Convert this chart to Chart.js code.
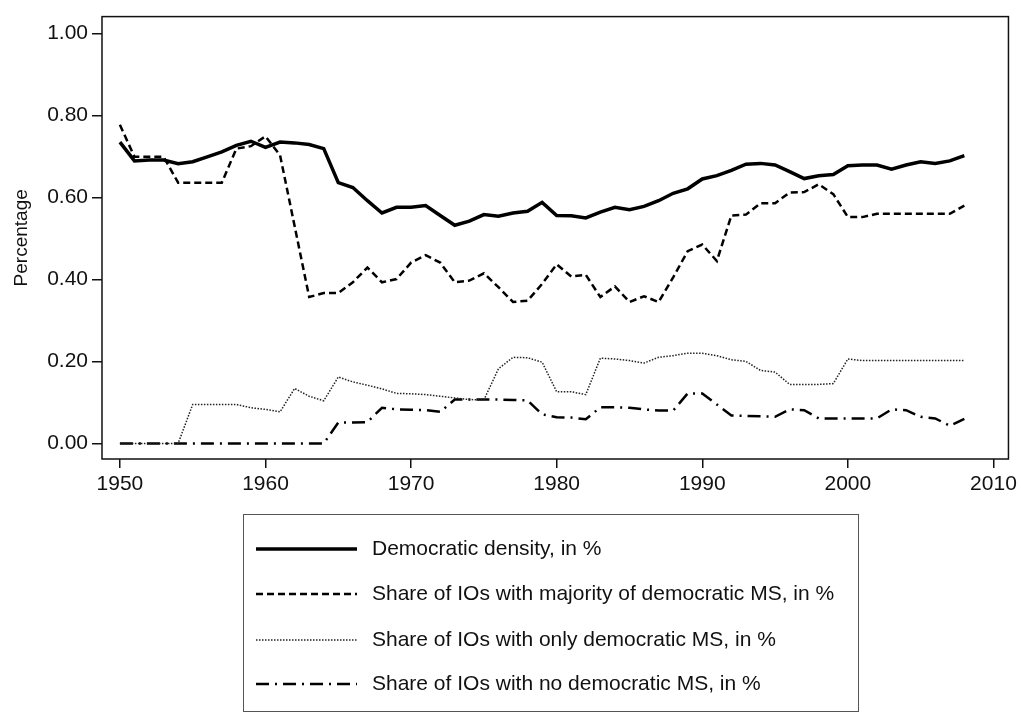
<!DOCTYPE html>
<html>
<head>
<meta charset="utf-8">
<script src="https://cdn.jsdelivr.net/npm/chart.js@4"></script>
<style>
  html, body { margin: 0; padding: 0; background: #fff; }
  #wrap { width: 1021px; height: 713px; }
</style>
</head>
<body>
<div id="wrap"><canvas id="chart" width="1021" height="713"></canvas></div>
<script>
// Values, one per year 1950-2008
const years = [1950, 1951, 1952, 1953, 1954, 1955, 1956, 1957, 1958, 1959,
  1960, 1961, 1962, 1963, 1964, 1965, 1966, 1967, 1968, 1969,
  1970, 1971, 1972, 1973, 1974, 1975, 1976, 1977, 1978, 1979,
  1980, 1981, 1982, 1983, 1984, 1985, 1986, 1987, 1988, 1989,
  1990, 1991, 1992, 1993, 1994, 1995, 1996, 1997, 1998, 1999,
  2000, 2001, 2002, 2003, 2004, 2005, 2006, 2007, 2008];

const density = [0.735, 0.689, 0.691, 0.691, 0.682, 0.687, 0.699, 0.711, 0.727, 0.737,
  0.722, 0.735, 0.733, 0.729, 0.719, 0.636, 0.624, 0.592, 0.562, 0.576,
  0.576, 0.580, 0.556, 0.532, 0.542, 0.558, 0.554, 0.562, 0.566, 0.588,
  0.556, 0.555, 0.550, 0.564, 0.576, 0.570, 0.578, 0.592, 0.610, 0.621,
  0.645, 0.653, 0.666, 0.681, 0.683, 0.679, 0.663, 0.646, 0.653, 0.656,
  0.677, 0.679, 0.679, 0.669, 0.679, 0.687, 0.683, 0.689, 0.702];

const majority = [0.777, 0.699, 0.699, 0.699, 0.636, 0.636, 0.636, 0.636, 0.719, 0.725,
  0.749, 0.703, 0.530, 0.357, 0.367, 0.367, 0.393, 0.429, 0.393, 0.401,
  0.441, 0.459, 0.441, 0.393, 0.397, 0.415, 0.381, 0.345, 0.348, 0.389,
  0.437, 0.407, 0.411, 0.357, 0.383, 0.345, 0.359, 0.345, 0.405, 0.469,
  0.485, 0.445, 0.556, 0.558, 0.586, 0.586, 0.612, 0.613, 0.632, 0.608,
  0.552, 0.552, 0.560, 0.560, 0.560, 0.560, 0.560, 0.560, 0.580];

const onlyDem = [0, 0, 0, 0, 0, 0.095, 0.095, 0.095, 0.095, 0.087,
  0.083, 0.077, 0.134, 0.115, 0.104, 0.162, 0.150, 0.142, 0.133, 0.122,
  0.121, 0.119, 0.115, 0.111, 0.107, 0.106, 0.182, 0.210, 0.209, 0.198,
  0.126, 0.126, 0.119, 0.208, 0.206, 0.202, 0.196, 0.210, 0.214, 0.220,
  0.220, 0.214, 0.204, 0.200, 0.178, 0.174, 0.144, 0.144, 0.144, 0.146,
  0.206, 0.202, 0.202, 0.202, 0.202, 0.202, 0.202, 0.202, 0.202];

const noDem = [0, 0, 0, 0, 0, 0, 0, 0, 0, 0,
  0, 0, 0, 0, 0, 0.051, 0.051, 0.052, 0.087, 0.083,
  0.082, 0.081, 0.077, 0.107, 0.107, 0.107, 0.107, 0.106, 0.105, 0.071,
  0.064, 0.063, 0.059, 0.088, 0.088, 0.087, 0.083, 0.080, 0.080, 0.122,
  0.122, 0.095, 0.068, 0.067, 0.066, 0.065, 0.083, 0.081, 0.061, 0.061,
  0.061, 0.061, 0.061, 0.083, 0.081, 0.065, 0.061, 0.043, 0.060];

const xTicks = [1950, 1960, 1970, 1980, 1990, 2000, 2010];
const yTicks = [0, 0.2, 0.4, 0.6, 0.8, 1.0];

const seriesLabels = [
  'Democratic density, in %',
  'Share of IOs with majority of democratic MS, in %',
  'Share of IOs with only democratic MS, in %',
  'Share of IOs with no democratic MS, in %'
];

const FONT = '"Liberation Sans", Arial, Helvetica, sans-serif';

function toPoints(vals) {
  return years.map((yr, i) => ({ x: yr, y: vals[i] }));
}

// frame around the plot region
const framePlugin = {
  id: 'frame',
  afterDatasetsDraw(chart) {
    const a = chart.chartArea;
    const ctx = chart.ctx;
    ctx.save();
    ctx.strokeStyle = '#111';
    ctx.lineWidth = 1.5;
    ctx.strokeRect(a.left, a.top, a.right - a.left, a.bottom - a.top);
    ctx.restore();
  }
};

// boxed legend under the plot, like the Stata one
const legendBox = {
  id: 'legendBox',
  afterDraw(chart) {
    const ctx = chart.ctx;
    const box = { x: 243, y: 514, w: 615, h: 197 };
    const rows = [549, 594, 640, 684];
    ctx.save();
    ctx.strokeStyle = '#555';
    ctx.lineWidth = 1;
    ctx.strokeRect(box.x + 0.5, box.y + 0.5, box.w, box.h);
    chart.data.datasets.forEach((ds, i) => {
      ctx.beginPath();
      ctx.strokeStyle = ds.borderColor;
      ctx.lineWidth = ds.borderWidth;
      ctx.setLineDash(ds.borderDash || []);
      ctx.moveTo(256, rows[i]);
      ctx.lineTo(357, rows[i]);
      ctx.stroke();
      ctx.setLineDash([]);
      ctx.fillStyle = '#111';
      ctx.font = '21px ' + FONT;
      ctx.textBaseline = 'middle';
      ctx.fillText(ds.label, 372, rows[i]);
    });
    ctx.restore();
  }
};

new Chart(document.getElementById('chart'), {
  type: 'line',
  data: {
    datasets: [
      { label: seriesLabels[0], data: toPoints(density), borderColor: '#000', borderWidth: 3.5 },
      { label: seriesLabels[1], data: toPoints(majority), borderColor: '#000', borderWidth: 2.5, borderDash: [7, 4] },
      { label: seriesLabels[2], data: toPoints(onlyDem), borderColor: '#222', borderWidth: 1.5, borderDash: [1.5, 1.5] },
      { label: seriesLabels[3], data: toPoints(noDem), borderColor: '#000', borderWidth: 2.5, borderDash: [13, 6, 2, 6] }
    ]
  },
  options: {
    responsive: false,
    animation: false,
    elements: { point: { radius: 0 }, line: { tension: 0, fill: false } },
    layout: { padding: { top: 7, right: 11, left: 0, bottom: 0 } },
    plugins: { legend: { display: false }, tooltip: { enabled: false } },
    scales: {
      x: {
        type: 'linear',
        min: 1948.77,
        max: 2011.03,
        afterBuildTicks: s => { s.ticks = xTicks.map(v => ({ value: v })); },
        afterFit: s => { s.height = 254; },
        border: { display: false },
        grid: { drawOnChartArea: false, drawTicks: true, tickLength: 9, color: '#111', lineWidth: 1.5 },
        ticks: { color: '#111', font: { family: FONT, size: 21 }, padding: 4, maxRotation: 0,
          callback: v => String(v) }
      },
      y: {
        min: -0.038,
        max: 1.041,
        afterBuildTicks: s => { s.ticks = yTicks.map(v => ({ value: v })); },
        afterFit: s => { s.width = 102; },
        border: { display: false },
        grid: { drawOnChartArea: false, drawTicks: true, tickLength: 10, color: '#111', lineWidth: 1.5 },
        ticks: { color: '#111', font: { family: FONT, size: 21 }, padding: 4,
          callback: v => v.toFixed(2) },
        title: { display: true, text: 'Percentage', color: '#111', font: { family: FONT, size: 19 },
          padding: { top: 10, bottom: 0 } }
      }
    }
  },
  plugins: [framePlugin, legendBox]
});
</script>
</body>
</html>
